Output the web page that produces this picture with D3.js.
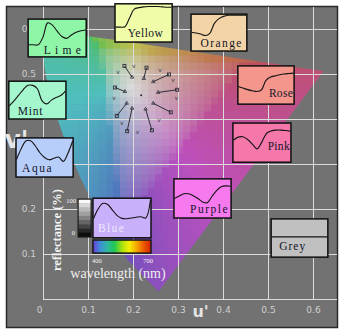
<!DOCTYPE html>
<html lang="en">
<head>
<meta charset="UTF-8">
<script src="https://d3js.org/d3.v7.min.js"></script>
<style>
  body { margin: 0; background: #fff; }
  svg { display: block; }
</style>
</head>
<body>
<script>
var width = 345, height = 336;

// spectral locus in CIE 1976 u'v', 380 -> 700 nm
var locusNm = [380, 460, 470, 475, 480, 485, 490, 495, 500, 505, 510, 520, 530, 540, 550, 560, 570, 580, 590, 600, 620, 640, 700];
var locusU = [0.2568, 0.1877, 0.1441, 0.1147, 0.0828, 0.0521, 0.0282, 0.0119, 0.0035, 0.0014, 0.0046, 0.0231, 0.0501, 0.0792, 0.1127, 0.1531, 0.2026, 0.2623, 0.3315, 0.4035, 0.5203, 0.5830, 0.6234];
var locusV = [0.0166, 0.0871, 0.1510, 0.2044, 0.2708, 0.3427, 0.4117, 0.4699, 0.5131, 0.5431, 0.5640, 0.5837, 0.5868, 0.5856, 0.5821, 0.5766, 0.5694, 0.5604, 0.5501, 0.5393, 0.5219, 0.5125, 0.5065];

var uTicks = [0, 0.1, 0.2, 0.3, 0.4, 0.5, 0.6];
var vTicks = [0, 0.1, 0.2, 0.3, 0.4, 0.5, 0.6];
var vTickLabels = ['', '0.1', '0.2', '', '', '0.5', '0.6'];

// colour shifts around the white point
var whiteU = 0.218, whiteV = 0.453;
var shiftFromU = [0.198, 0.224, 0.245, 0.182, 0.256, 0.186, 0.198, 0.228, 0.245];
var shiftFromV = [0.493, 0.490, 0.483, 0.461, 0.459, 0.435, 0.424, 0.422, 0.435];
var shiftToU = [0.181, 0.230, 0.280, 0.160, 0.298, 0.164, 0.187, 0.242, 0.284];
var shiftToV = [0.518, 0.514, 0.499, 0.470, 0.465, 0.407, 0.373, 0.375, 0.415];
var vMarkU = [0.202, 0.260, 0.167, 0.158, 0.296, 0.175, 0.210, 0.258, 0.289];
var vMarkV = [0.518, 0.509, 0.504, 0.446, 0.446, 0.390, 0.370, 0.398, 0.487];

// reflectance spectra of the swatches (%)
var wavelengths = [400, 425, 450, 475, 500, 525, 550, 575, 600, 625, 650, 675, 700];
var limeRefl   = [32, 32, 32, 52, 90, 84, 68, 54, 49, 58, 65, 69, 71];
var yellowRefl = [39, 39, 40, 63, 86, 90, 92, 93, 93, 93, 92, 91, 91];
var orangeRefl = [51, 49, 46, 42, 48, 75, 88, 94, 97, 97, 97, 97, 97];
var mintRefl   = [35, 48, 63, 78, 89, 89, 80, 48, 40, 50, 57, 62, 74];
var roseRefl   = [46, 42, 38, 35, 33, 37, 62, 71, 74, 77, 79, 80, 81];
var pinkRefl   = [56, 64, 65, 58, 46, 34, 52, 74, 80, 82, 82, 81, 79];
var aquaRefl   = [45, 72, 92, 93, 80, 62, 50, 44, 48, 51, 40, 61, 92];
var purpleRefl = [50, 56, 62, 62, 57, 50, 41, 39, 55, 70, 80, 82, 81];
var blueRefl   = [48, 73, 87, 84, 70, 56, 49, 48, 50, 52, 53, 50, 96];
var greyRefl   = [53, 53, 53, 53, 53, 53, 53, 53, 53, 53, 53, 53, 53];

var swatchNames = ['Lime', 'Yellow', 'Orange', 'Mint', 'Rose', 'Pink', 'Aqua', 'Purple', 'Blue', 'Grey'];
var swatchRefl = [limeRefl, yellowRefl, orangeRefl, mintRefl, roseRefl, pinkRefl, aquaRefl, purpleRefl, blueRefl, greyRefl];

// layout: swatch boxes placed in u'v' (left, top, right, bottom) + styling
var swatchBox = [
  [-0.033, 0.622, 0.096, 0.538],
  [0.160, 0.656, 0.287, 0.571],
  [0.329, 0.633, 0.453, 0.551],
  [-0.076, 0.484, 0.051, 0.400],
  [0.433, 0.518, 0.558, 0.433],
  [0.422, 0.391, 0.551, 0.304],
  [-0.060, 0.358, 0.067, 0.271],
  [0.291, 0.267, 0.418, 0.180],
  [0.111, 0.224, 0.240, 0.136],
  [0.507, 0.178, 0.633, 0.093]
];
var swatchFill = ['#8ff6a8', '#f0fca8', '#f2d4a6', '#a4f7cc', '#f4968c', '#f678aa', '#b8cefa', '#f67aee', '#c8b0fa', '#c0c0c0'];
// label: anchor, dx from anchored side, dy from bottom, letter spacing
var labelStyle = [
  ['end', -1, -3, 4.3], ['middle', 2, -5, 0.5], ['end', -4, -4, 1.4], ['start', 9, -4, 0.8],
  ['end', -1, -7, 0.3], ['end', -1, -12, 0.3], ['start', 6, -5, 1.6], ['end', -2, -5, 1.5],
  ['start', 5, -6, 1.4], ['start', 8, -7, 1]
];

var greyLevels = [250, 215, 185, 160, 130, 100, 70, 40, 12];
var rainbowColors = ['#6a3cd8', '#3f8fd8', '#30b8a0', '#20c850', '#a8e010', '#f4f000', '#f4a800', '#ec5a00', '#d81e00'];

var svg = d3.select('body').append('svg')
  .attr('width', width)
  .attr('height', height);

var x = d3.scaleLinear().domain([0, 0.6]).range([43, 313]);
var y = d3.scaleLinear().domain([0, 0.6]).range([299, 29]);
var frame = {left: 6.5, top: 6.5, right: 337.5, bottom: 327.5};

svg.append('rect')
  .attr('x', frame.left).attr('y', frame.top)
  .attr('width', frame.right - frame.left).attr('height', frame.bottom - frame.top)
  .attr('fill', '#727272')
  .attr('stroke', '#2a2a2a').attr('stroke-width', 1.5);

// chromaticity -> display colour, washed out like the original print
function uvColor(u, v) {
  var d = 6 * u - 16 * v + 12, cx = 9 * u / d, cy = 4 * v / d;
  var X = cx / cy, Y = 1, Z = (1 - cx - cy) / cy;
  var r = 3.2406 * X - 1.5372 * Y - 0.4986 * Z,
      g = -0.9689 * X + 1.8758 * Y + 0.0415 * Z,
      b = 0.0557 * X - 0.2040 * Y + 1.0570 * Z;
  var m = Math.min(r, g, b);
  if (m < 0) { r -= m; g -= m; b -= m; }
  var M = Math.max(r, g, b);
  function enc(c) {
    c = c / M;
    c = c <= 0.0031308 ? 12.92 * c : 1.055 * Math.pow(c, 1 / 2.4) - 0.055;
    return 255 * (0.2 + 0.66 * c);
  }
  var col = d3.hsl(d3.rgb(enc(r), enc(g), enc(b)));
  col.s = 0.78 * Math.pow(col.s, 1.5);
  return col.formatHex();
}

var locus = locusNm.map(function(n, i) { return {u: locusU[i], v: locusV[i]}; });
var locusLine = d3.line().x(function(d) { return x(d.u); }).y(function(d) { return y(d.v); });

svg.append('clipPath').attr('id', 'gamut')
  .append('path').attr('d', locusLine(locus) + 'Z');

var cellPx = 7;
var cells = [];
d3.range(x(0), frame.right, cellPx).forEach(function(px) {
  d3.range(frame.top, y(0), cellPx).forEach(function(py) {
    cells.push({u: x.invert(px + cellPx / 2), v: y.invert(py + cellPx / 2)});
  });
});

svg.append('g')
  .attr('clip-path', 'url(#gamut)')
  .selectAll('rect')
  .data(cells)
  .enter().append('rect')
    .attr('x', function(d) { return x(d.u) - cellPx / 2; })
    .attr('y', function(d) { return y(d.v) - cellPx / 2; })
    .attr('width', cellPx + 0.4)
    .attr('height', cellPx + 0.4)
    .attr('fill', function(d) { return uvColor(d.u, d.v); });

// grid + tick labels
var xAxis = svg.append('g')
  .attr('transform', 'translate(0,' + y(0) + ')')
  .call(d3.axisBottom(x).tickValues(uTicks).tickSize(-(y(0) - frame.top - 0.5)).tickPadding(8)
    .tickFormat(function(d) { return d === 0 ? '0' : d3.format('.1f')(d); }));
var yAxis = svg.append('g')
  .attr('transform', 'translate(' + x(0) + ',0)')
  .call(d3.axisLeft(y).tickValues(vTicks).tickSize(-(frame.right - 0.5 - x(0))).tickPadding(7)
    .tickFormat(function(d, i) { return vTickLabels[i]; }));
[xAxis, yAxis].forEach(function(a) {
  a.select('.domain').remove();
  a.selectAll('line').attr('stroke', '#dcdcdc').attr('stroke-width', 1);
  a.selectAll('text')
    .attr('fill', '#cfcfcf')
    .style('font-family', '"DejaVu Sans", sans-serif')
    .style('font-size', '9px');
});
xAxis.selectAll('text').filter(function(d) { return d === 0; }).attr('dx', -4);

svg.append('text')
  .attr('x', x(0.332)).attr('y', y(0) + 18)
  .attr('fill', '#e2e2e2')
  .style('font-family', '"DejaVu Sans", sans-serif')
  .style('font-weight', 'bold').style('font-size', '16px')
  .text("u'");
svg.append('text')
  .attr('x', frame.left - 2).attr('y', y(0.335))
  .attr('fill', '#e6e6e6')
  .style('font-family', '"DejaVu Sans", sans-serif')
  .style('font-weight', 'bold').style('font-size', '25px')
  .text("v'");

// colour shift markers
var shifts = shiftFromU.map(function(u, i) {
  return {u0: u, v0: shiftFromV[i], u1: shiftToU[i], v1: shiftToV[i]};
});
var mk = svg.append('g').attr('stroke', '#2e2e3a').attr('fill', 'none');
mk.selectAll('line')
  .data(shifts)
  .enter().append('line')
    .attr('x1', function(d) { return x(d.u0); })
    .attr('y1', function(d) { return y(d.v0); })
    .attr('x2', function(d) { return x(d.u1); })
    .attr('y2', function(d) { return y(d.v1); })
    .attr('stroke-width', 1);
mk.selectAll('rect')
  .data(shifts)
  .enter().append('rect')
    .attr('x', function(d) { return x(d.u1) - 1.5; })
    .attr('y', function(d) { return y(d.v1) - 1.5; })
    .attr('width', 3).attr('height', 3)
    .attr('stroke-width', 0.9);
mk.selectAll('path')
  .data(shifts)
  .enter().append('path')
    .attr('transform', function(d) { return 'translate(' + x(d.u0) + ',' + y(d.v0) + ')'; })
    .attr('d', d3.symbol().type(d3.symbolTriangle).size(5))
    .attr('stroke-width', 0.8);
svg.append('circle')
  .attr('cx', x(whiteU)).attr('cy', y(whiteV)).attr('r', 1)
  .attr('fill', '#222');
svg.append('g')
  .selectAll('text')
  .data(vMarkU)
  .enter().append('text')
    .attr('x', function(d) { return x(d); })
    .attr('y', function(d, i) { return y(vMarkV[i]); })
    .attr('dy', '0.3em')
    .attr('text-anchor', 'middle')
    .attr('fill', '#3a3a46')
    .style('font-family', '"DejaVu Sans", sans-serif')
    .style('font-size', '6px')
    .text('v');

// legend: reflectance grey scale and wavelength bar
var serif = '"Liberation Serif", "Times New Roman", serif';
var gbar = {l: x(0.078), r: x(0.107), t: y(0.222), b: y(0.138)};
var gy = d3.scaleBand().domain(d3.range(greyLevels.length)).range([gbar.t, gbar.b]);
svg.append('g')
  .selectAll('rect')
  .data(greyLevels)
  .enter().append('rect')
    .attr('x', gbar.l).attr('width', gbar.r - gbar.l)
    .attr('y', function(d, i) { return gy(i); })
    .attr('height', gy.bandwidth() + 0.3)
    .attr('fill', function(d) { return d3.rgb(d, d, d); });
svg.append('rect')
  .attr('x', gbar.l).attr('y', gbar.t)
  .attr('width', gbar.r - gbar.l).attr('height', gbar.b - gbar.t)
  .attr('fill', 'none').attr('stroke', '#1a1a1a').attr('stroke-width', 1.2);

var grad = svg.append('defs').append('linearGradient').attr('id', 'spectrum');
grad.selectAll('stop')
  .data(rainbowColors)
  .enter().append('stop')
    .attr('offset', function(d, i) { return i / (rainbowColors.length - 1); })
    .attr('stop-color', function(d) { return d; });
var rbar = {l: x(0.111), r: x(0.240), t: y(0.131), b: y(0.102)};
svg.append('rect')
  .attr('x', rbar.l).attr('y', rbar.t)
  .attr('width', rbar.r - rbar.l).attr('height', rbar.b - rbar.t)
  .attr('fill', 'url(#spectrum)')
  .attr('stroke', '#1a1a1a').attr('stroke-width', 1.5);

var small = [
  ['100', gbar.l - 2, gbar.t + 4, 'end'],
  ['0', gbar.l - 3, gbar.b - 2, 'end'],
  ['400', rbar.l + 4, rbar.b + 10, 'middle'],
  ['700', rbar.r - 3, rbar.b + 10, 'middle']
];
svg.append('g')
  .selectAll('text')
  .data(small)
  .enter().append('text')
    .attr('x', function(d) { return d[1]; })
    .attr('y', function(d) { return d[2]; })
    .attr('text-anchor', function(d) { return d[3]; })
    .attr('fill', '#f4f4f4')
    .style('font-family', serif)
    .style('font-size', '6.5px')
    .text(function(d) { return d[0]; });

svg.append('text')
  .attr('transform', 'translate(' + (gbar.l - 17) + ',' + ((gbar.t + rbar.b) / 2 + 4) + ') rotate(-90)')
  .attr('text-anchor', 'middle')
  .attr('fill', '#f2f2f2')
  .style('font-family', serif)
  .style('font-weight', 'bold')
  .style('font-size', '12.5px')
  .text('reflectance (%)');
svg.append('text')
  .attr('x', (rbar.l + rbar.r) / 2 - 4).attr('y', rbar.b + 25)
  .attr('text-anchor', 'middle')
  .attr('fill', '#eeeeee')
  .style('font-family', serif)
  .style('font-size', '14px')
  .text('wavelength (nm)');

// swatch boxes with their reflectance curves
var swatches = swatchNames.map(function(name, i) {
  var b = swatchBox[i];
  return {name: name, refl: swatchRefl[i], fill: swatchFill[i], style: labelStyle[i],
          l: x(b[0]), t: y(b[1]), r: x(b[2]), b: y(b[3])};
});

var sw = svg.append('g')
  .selectAll('g')
  .data(swatches)
  .enter().append('g');

sw.append('rect')
  .attr('x', function(d) { return d.l; })
  .attr('y', function(d) { return d.t; })
  .attr('width', function(d) { return d.r - d.l; })
  .attr('height', function(d) { return d.b - d.t; })
  .attr('fill', function(d) { return d.fill; })
  .attr('stroke', '#101010')
  .attr('stroke-width', 1.5);

sw.append('path')
  .attr('fill', 'none')
  .attr('stroke', '#141414')
  .attr('stroke-width', 1.1)
  .attr('d', function(d) {
    var wx = d3.scaleLinear().domain([400, 700]).range([d.l + 0.5, d.r - 0.5]);
    var ry = d3.scaleLinear().domain([0, 100]).range([d.b, d.t]);
    return d3.line()
      .x(function(p) { return wx(p); })
      .y(function(p, k) { return ry(d.refl[k]); })
      .curve(d3.curveCatmullRom)(wavelengths);
  });

sw.append('text')
  .attr('x', function(d) {
    var a = d.style[0];
    if (a === 'end') return d.r + d.style[1];
    if (a === 'middle') return (d.l + d.r) / 2 + d.style[1];
    return d.l + d.style[1];
  })
  .attr('y', function(d) { return d.b + d.style[2]; })
  .attr('text-anchor', function(d) { return d.style[0]; })
  .attr('fill', function(d) { return d.name === 'Blue' ? '#eee8ff' : '#14142a'; })
  .style('letter-spacing', function(d) { return d.style[3] + 'px'; })
  .style('font-family', serif)
  .style('font-size', '11.5px')
  .text(function(d) { return d.name; });
</script>
</body>
</html>
